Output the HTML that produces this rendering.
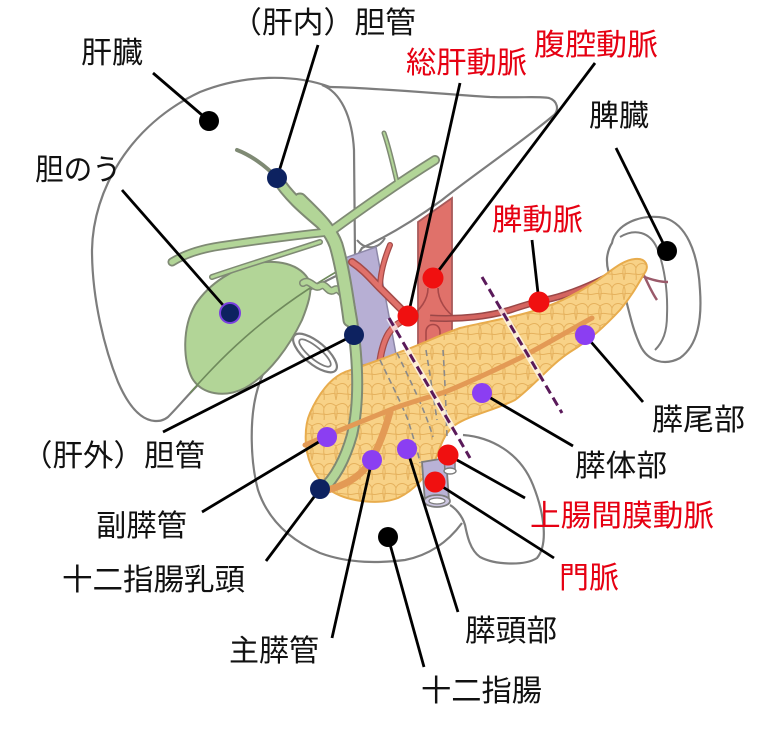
<!DOCTYPE html>
<html><head><meta charset="utf-8">
<style>
html,body{margin:0;padding:0;background:#fff;}
svg{display:block;}
text{font-family:"Liberation Sans","Noto Sans CJK JP",sans-serif;font-size:30px;}
</style></head>
<body>
<svg width="768" height="733" viewBox="0 0 768 733" xmlns="http://www.w3.org/2000/svg">
<defs>
<pattern id="lob" width="24" height="20" patternUnits="userSpaceOnUse">
<path d="M0,6 C6,2 10,3 12,8 C14,3 19,2 24,6 M12,8 C11,13 13,16 12,20 M0,6 C2,11 1,15 0,20 M24,6 C22,11 23,15 24,20 M0,14 C5,12 8,15 12,14 M12,14 C16,16 20,12 24,14" stroke="#e3ad58" stroke-width="1" fill="none"/>
</pattern>
</defs>
<rect width="768" height="733" fill="#fff"/>

<!-- Liver -->
<path d="M155,421 C140,420 128,405 118,382 C105,350 92,300 92,250 C93,190 130,125 200,92 C245,74 295,74 330,87 C380,88 440,94 490,97 C520,98 540,96 549,98 C558,101 559,110 554,115 C522,142 472,176 442,200 C412,222 388,236 362,248 L350,268 L345,272 C280,300 230,350 205,378 C190,392 180,405 168,417 C163,421 159,421 155,421 Z" fill="#fff" stroke="#7d7d7d" stroke-width="2.2"/>
<path d="M322,85 C340,92 352,115 354,150 L355,255" fill="none" stroke="#7d7d7d" stroke-width="2.2"/>
<path d="M357,240 C365,250 378,250 385,238" fill="none" stroke="#7d7d7d" stroke-width="2"/>

<!-- Spleen -->
<path d="M612,243 C615,225 640,213 665,218 C685,224 698,250 700,290 C702,320 698,345 680,358 C665,366 648,362 640,345 C633,330 630,315 626,300 C616,290 606,275 607,258 C608,250 610,246 612,243 Z" fill="#fff" stroke="#7d7d7d" stroke-width="2.2"/>
<path d="M620,237 C635,228 650,232 657,248 C664,265 668,290 667,315 C667,332 663,342 655,350" fill="none" stroke="#7d7d7d" stroke-width="2"/>
<path d="M640,268 C646,278 650,290 657,300 M642,276 C652,280 660,282 668,282" fill="none" stroke="#9a5a6a" stroke-width="2.5"/>

<!-- Duodenum -->
<path d="M287,338 C275,350 262,370 256,395 C250,420 250,460 258,490 C268,520 290,540 320,553 C350,564 380,563 405,560 C430,555 448,542 462,523" fill="none" stroke="#7d7d7d" stroke-width="2.2"/>
<path d="M463,435 C490,437 520,452 533,485 C545,515 548,545 537,558 C525,566 495,565 480,557 C470,550 467,535 465,525 C462,515 455,508 450,505" fill="none" stroke="#7d7d7d" stroke-width="2.2"/>
<ellipse cx="315" cy="353" rx="27" ry="11" transform="rotate(40 315 353)" fill="#fff" stroke="#7d7d7d" stroke-width="2.2"/>
<ellipse cx="315" cy="353" rx="20" ry="6" transform="rotate(40 315 353)" fill="#fff" stroke="#7d7d7d" stroke-width="1.8"/>

<!-- Gallbladder -->
<path d="M310,282 C300,262 275,260 257,263 C235,268 210,282 195,305 C182,328 183,360 192,378 C202,395 225,398 245,388 C270,374 290,345 302,320 C308,305 312,292 310,282 Z" fill="#b2d597" stroke="#7f8a74" stroke-width="2"/>
<path d="M190,393 C215,365 260,315 343,268" fill="none" stroke="#6f8a5c" stroke-width="1.6"/>
<!-- cystic duct -->
<path d="M303,283 C310,278 314,290 320,286 C326,282 328,294 334,290 C340,286 342,298 348,296" fill="none" stroke="#7f8a74" stroke-width="8" stroke-linecap="round"/>
<path d="M303,283 C310,278 314,290 320,286 C326,282 328,294 334,290 C340,286 342,298 348,296" fill="none" stroke="#b2d597" stroke-width="5" stroke-linecap="round"/>

<!-- Lavender vein -->
<path d="M345,258 L376,247 C382,280 390,320 397,360 L362,365 C358,330 352,290 345,258 Z" fill="#b7afd4" stroke="#8d88a8" stroke-width="1.5"/>

<!-- hepatic arteries -->
<g fill="none" stroke-linecap="round">
<path d="M408,316 C398,306 388,296 380,288 C372,280 364,270 352,262" stroke="#a34a48" stroke-width="8"/>
<path d="M380,288 C380,275 383,262 390,245" stroke="#a34a48" stroke-width="6"/>
<path d="M405,320 C392,325 384,335 380,360" stroke="#a34a48" stroke-width="7"/>
<path d="M408,316 C398,306 388,296 380,288 C372,280 364,270 352,262" stroke="#e0716a" stroke-width="5"/>
<path d="M380,288 C380,275 383,262 390,245" stroke="#e0716a" stroke-width="3.5"/>
<path d="M405,320 C392,325 384,335 380,360" stroke="#e0716a" stroke-width="4.5"/>
</g>

<!-- Aorta -->
<path d="M418,222 L452,198 L452,345 L418,345 Z" fill="#e0716a" stroke="#a85a5a" stroke-width="1.8"/>
<path d="M428,288 C428,300 420,310 410,317 M438,288 C438,300 446,312 456,318 M426,345 L426,332 C426,322 440,322 440,332 L440,345" fill="none" stroke="#a84848" stroke-width="1.6"/>

<!-- Splenic artery -->
<path d="M430,318 C460,320 490,316 510,310 C525,305 535,302 545,300 C565,296 585,288 605,278 C620,270 632,266 645,268" fill="none" stroke="#9a4848" stroke-width="7"/>
<path d="M430,318 C460,320 490,316 510,310 C525,305 535,302 545,300 C565,296 585,288 605,278 C620,270 632,266 645,268" fill="none" stroke="#d46560" stroke-width="4"/>

<!-- Pancreas -->
<path d="M310,413 C318,395 330,378 345,372 C365,365 380,360 400,352 C420,345 440,335 460,328 C485,322 510,318 530,312 C555,305 575,295 595,282 C610,272 622,260 635,259 C646,258 650,266 644,274 C636,288 630,298 620,310 C605,326 590,340 570,352 C550,365 535,385 515,400 C495,410 470,415 455,425 C442,435 440,450 435,460 C425,477 415,490 398,498 C380,505 350,502 333,492 C318,482 308,465 306,445 C305,432 306,422 310,413 Z" fill="#f8d287" stroke="#e8ac4c" stroke-width="2"/>
<path d="M310,413 C318,395 330,378 345,372 C365,365 380,360 400,352 C420,345 440,335 460,328 C485,322 510,318 530,312 C555,305 575,295 595,282 C610,272 622,260 635,259 C646,258 650,266 644,274 C636,288 630,298 620,310 C605,326 590,340 570,352 C550,365 535,385 515,400 C495,410 470,415 455,425 C442,435 440,450 435,460 C425,477 415,490 398,498 C380,505 350,502 333,492 C318,482 308,465 306,445 C305,432 306,422 310,413 Z" fill="url(#lob)" opacity="0.9"/>

<!-- hidden vessels dashed -->
<g fill="none" stroke="#8a8a8a" stroke-width="1.6" stroke-dasharray="6 4">
<path d="M380,360 C392,385 402,405 408,420 C414,440 418,452 420,463"/>
<path d="M397,353 C410,380 425,410 433,437"/>
<path d="M426,350 C430,375 434,400 437,420"/>
<path d="M443,350 C445,380 446,410 447,437"/>
</g>

<!-- bile ducts -->
<g fill="none" stroke-linecap="round">
<path d="M277,178 C290,200 315,218 328,230 C340,250 345,280 352,320 C358,360 360,400 352,435 C345,460 335,478 322,490" stroke="#7f8a74" stroke-width="12"/>
<path d="M300,200 C315,215 330,228 336,245 C342,265 346,290 350,320" stroke="#7f8a74" stroke-width="15"/>
<path d="M330,232 C360,210 395,185 435,160" stroke="#7f8a74" stroke-width="10"/>
<path d="M398,186 C394,170 390,150 384,133" stroke="#7f8a74" stroke-width="5"/>
<path d="M328,232 C300,235 260,240 220,246 C200,249 185,254 172,262" stroke="#7f8a74" stroke-width="9"/>
<path d="M320,242 C290,252 250,264 212,277" stroke="#7f8a74" stroke-width="6"/>
<path d="M277,178 C265,165 250,155 237,150" stroke="#7f8a74" stroke-width="4"/>
<path d="M277,178 C290,200 315,218 328,230 C340,250 345,280 352,320 C358,360 360,400 352,435 C345,460 335,478 322,490" stroke="#b2d597" stroke-width="8"/>
<path d="M300,200 C315,215 330,228 336,245 C342,265 346,290 350,320" stroke="#b2d597" stroke-width="11"/>
<path d="M330,232 C360,210 395,185 435,160" stroke="#b2d597" stroke-width="6.5"/>
<path d="M398,186 C394,170 390,150 384,133" stroke="#b2d597" stroke-width="2"/>
<path d="M328,232 C300,235 260,240 220,246 C200,249 185,254 172,262" stroke="#b2d597" stroke-width="5.5"/>
<path d="M320,242 C290,252 250,264 212,277" stroke="#b2d597" stroke-width="3"/>
</g>

<!-- pancreatic ducts -->
<g fill="none" stroke-linecap="round">
<path d="M592,318 C570,330 545,345 520,358 C495,370 470,382 445,392 C420,400 400,405 385,412 C365,420 340,430 305,445" stroke="#e39a55" stroke-width="5"/>
<path d="M390,412 C385,430 378,450 368,465 C358,478 345,485 328,490" stroke="#e39a55" stroke-width="7"/>
</g>

<!-- lower vessels -->
<path d="M422,462 L446,458 L449,500 L425,503 Z" fill="#b9b2d6" stroke="#7d7d7d" stroke-width="1.8"/>
<ellipse cx="437" cy="501" rx="13" ry="6" fill="#ccc6e0" stroke="#7d7d7d" stroke-width="1.8"/>
<ellipse cx="437" cy="501" rx="8" ry="3" fill="#fff" stroke="#7d7d7d" stroke-width="1.2"/>
<path d="M444,455 L455,453 L455,470 L445,472 Z" fill="#b9b2d6" stroke="#7d7d7d" stroke-width="1.5"/>
<ellipse cx="450" cy="471" rx="6" ry="3" fill="#fff" stroke="#7d7d7d" stroke-width="1.4"/>

<!-- dashed section lines -->
<g fill="none" stroke-linecap="butt">
<path d="M389,318 L470,458" stroke="#fff" stroke-width="6" opacity="0.7"/>
<path d="M482,277 L562,413" stroke="#fff" stroke-width="6" opacity="0.7"/>
<path d="M389,318 L470,458" stroke="#5a1a5a" stroke-width="3" stroke-dasharray="9 5"/>
<path d="M482,277 L562,413" stroke="#5a1a5a" stroke-width="3" stroke-dasharray="9 5"/>
</g>

<!-- leader lines -->
<g stroke="#000" stroke-width="2.8" fill="none">
<line x1="153" y1="73" x2="209" y2="121"/>
<line x1="318" y1="45" x2="277" y2="178"/>
<line x1="460" y1="83" x2="408" y2="316"/>
<line x1="595" y1="63" x2="433" y2="278"/>
<line x1="616" y1="148" x2="667" y2="251"/>
<line x1="122" y1="190" x2="230" y2="313"/>
<line x1="532" y1="240" x2="539" y2="302"/>
<line x1="585" y1="335" x2="643" y2="402"/>
<line x1="354" y1="335" x2="163" y2="432"/>
<line x1="482" y1="393" x2="573" y2="446"/>
<line x1="448" y1="455" x2="525" y2="498"/>
<line x1="327" y1="437" x2="202" y2="512"/>
<line x1="435" y1="482" x2="554" y2="558"/>
<line x1="320" y1="489" x2="266" y2="561"/>
<line x1="407" y1="449" x2="458" y2="612"/>
<line x1="372" y1="460" x2="332" y2="638"/>
<line x1="388" y1="537" x2="424" y2="667"/>
</g>

<!-- dots -->
<g>
<circle cx="209" cy="121" r="10" fill="#000"/>
<circle cx="667" cy="251" r="10" fill="#000"/>
<circle cx="388" cy="537" r="10" fill="#000"/>
<circle cx="277" cy="178" r="10" fill="#0d2260"/>
<circle cx="354" cy="335" r="10" fill="#0d2260"/>
<circle cx="320" cy="489" r="10" fill="#0d2260"/>
<circle cx="230" cy="313" r="10" fill="#0d2260" stroke="#7a40e0" stroke-width="2"/>
<circle cx="433" cy="278" r="10.5" fill="#f01010"/>
<circle cx="408" cy="316" r="10.5" fill="#f01010"/>
<circle cx="539" cy="302" r="10.5" fill="#f01010"/>
<circle cx="448" cy="455" r="10.5" fill="#f01010"/>
<circle cx="435" cy="482" r="10.5" fill="#f01010"/>
<circle cx="327" cy="437" r="10" fill="#8b3ef2"/>
<circle cx="372" cy="460" r="10" fill="#8b3ef2"/>
<circle cx="407" cy="449" r="10" fill="#8b3ef2"/>
<circle cx="482" cy="393" r="10" fill="#8b3ef2"/>
<circle cx="585" cy="335" r="10" fill="#8b3ef2"/>
</g>

<!-- labels -->
<g fill="#111">
<text x="81" y="63" textLength="62" lengthAdjust="spacingAndGlyphs">肝臓</text>
<text x="231" y="33" textLength="185" lengthAdjust="spacingAndGlyphs">（肝内）胆管</text>
<text x="589" y="126" textLength="60" lengthAdjust="spacingAndGlyphs">脾臓</text>
<text x="35" y="180" textLength="86" lengthAdjust="spacingAndGlyphs">胆のう</text>
<text x="652" y="430" textLength="93" lengthAdjust="spacingAndGlyphs">膵尾部</text>
<text x="22" y="466" textLength="183" lengthAdjust="spacingAndGlyphs">（肝外）胆管</text>
<text x="575" y="476" textLength="92" lengthAdjust="spacingAndGlyphs">膵体部</text>
<text x="96" y="536" textLength="91" lengthAdjust="spacingAndGlyphs">副膵管</text>
<text x="62" y="590" textLength="183" lengthAdjust="spacingAndGlyphs">十二指腸乳頭</text>
<text x="465" y="641" textLength="92" lengthAdjust="spacingAndGlyphs">膵頭部</text>
<text x="229" y="661" textLength="90" lengthAdjust="spacingAndGlyphs">主膵管</text>
<text x="421" y="701" textLength="121" lengthAdjust="spacingAndGlyphs">十二指腸</text>
</g>
<g fill="#e60012">
<text x="406" y="73" textLength="121" lengthAdjust="spacingAndGlyphs">総肝動脈</text>
<text x="534" y="55" textLength="124" lengthAdjust="spacingAndGlyphs">腹腔動脈</text>
<text x="492" y="230" textLength="91" lengthAdjust="spacingAndGlyphs">脾動脈</text>
<text x="530" y="526" textLength="184" lengthAdjust="spacingAndGlyphs">上腸間膜動脈</text>
<text x="559" y="588" textLength="60" lengthAdjust="spacingAndGlyphs">門脈</text>
</g>
</svg>
</body></html>
